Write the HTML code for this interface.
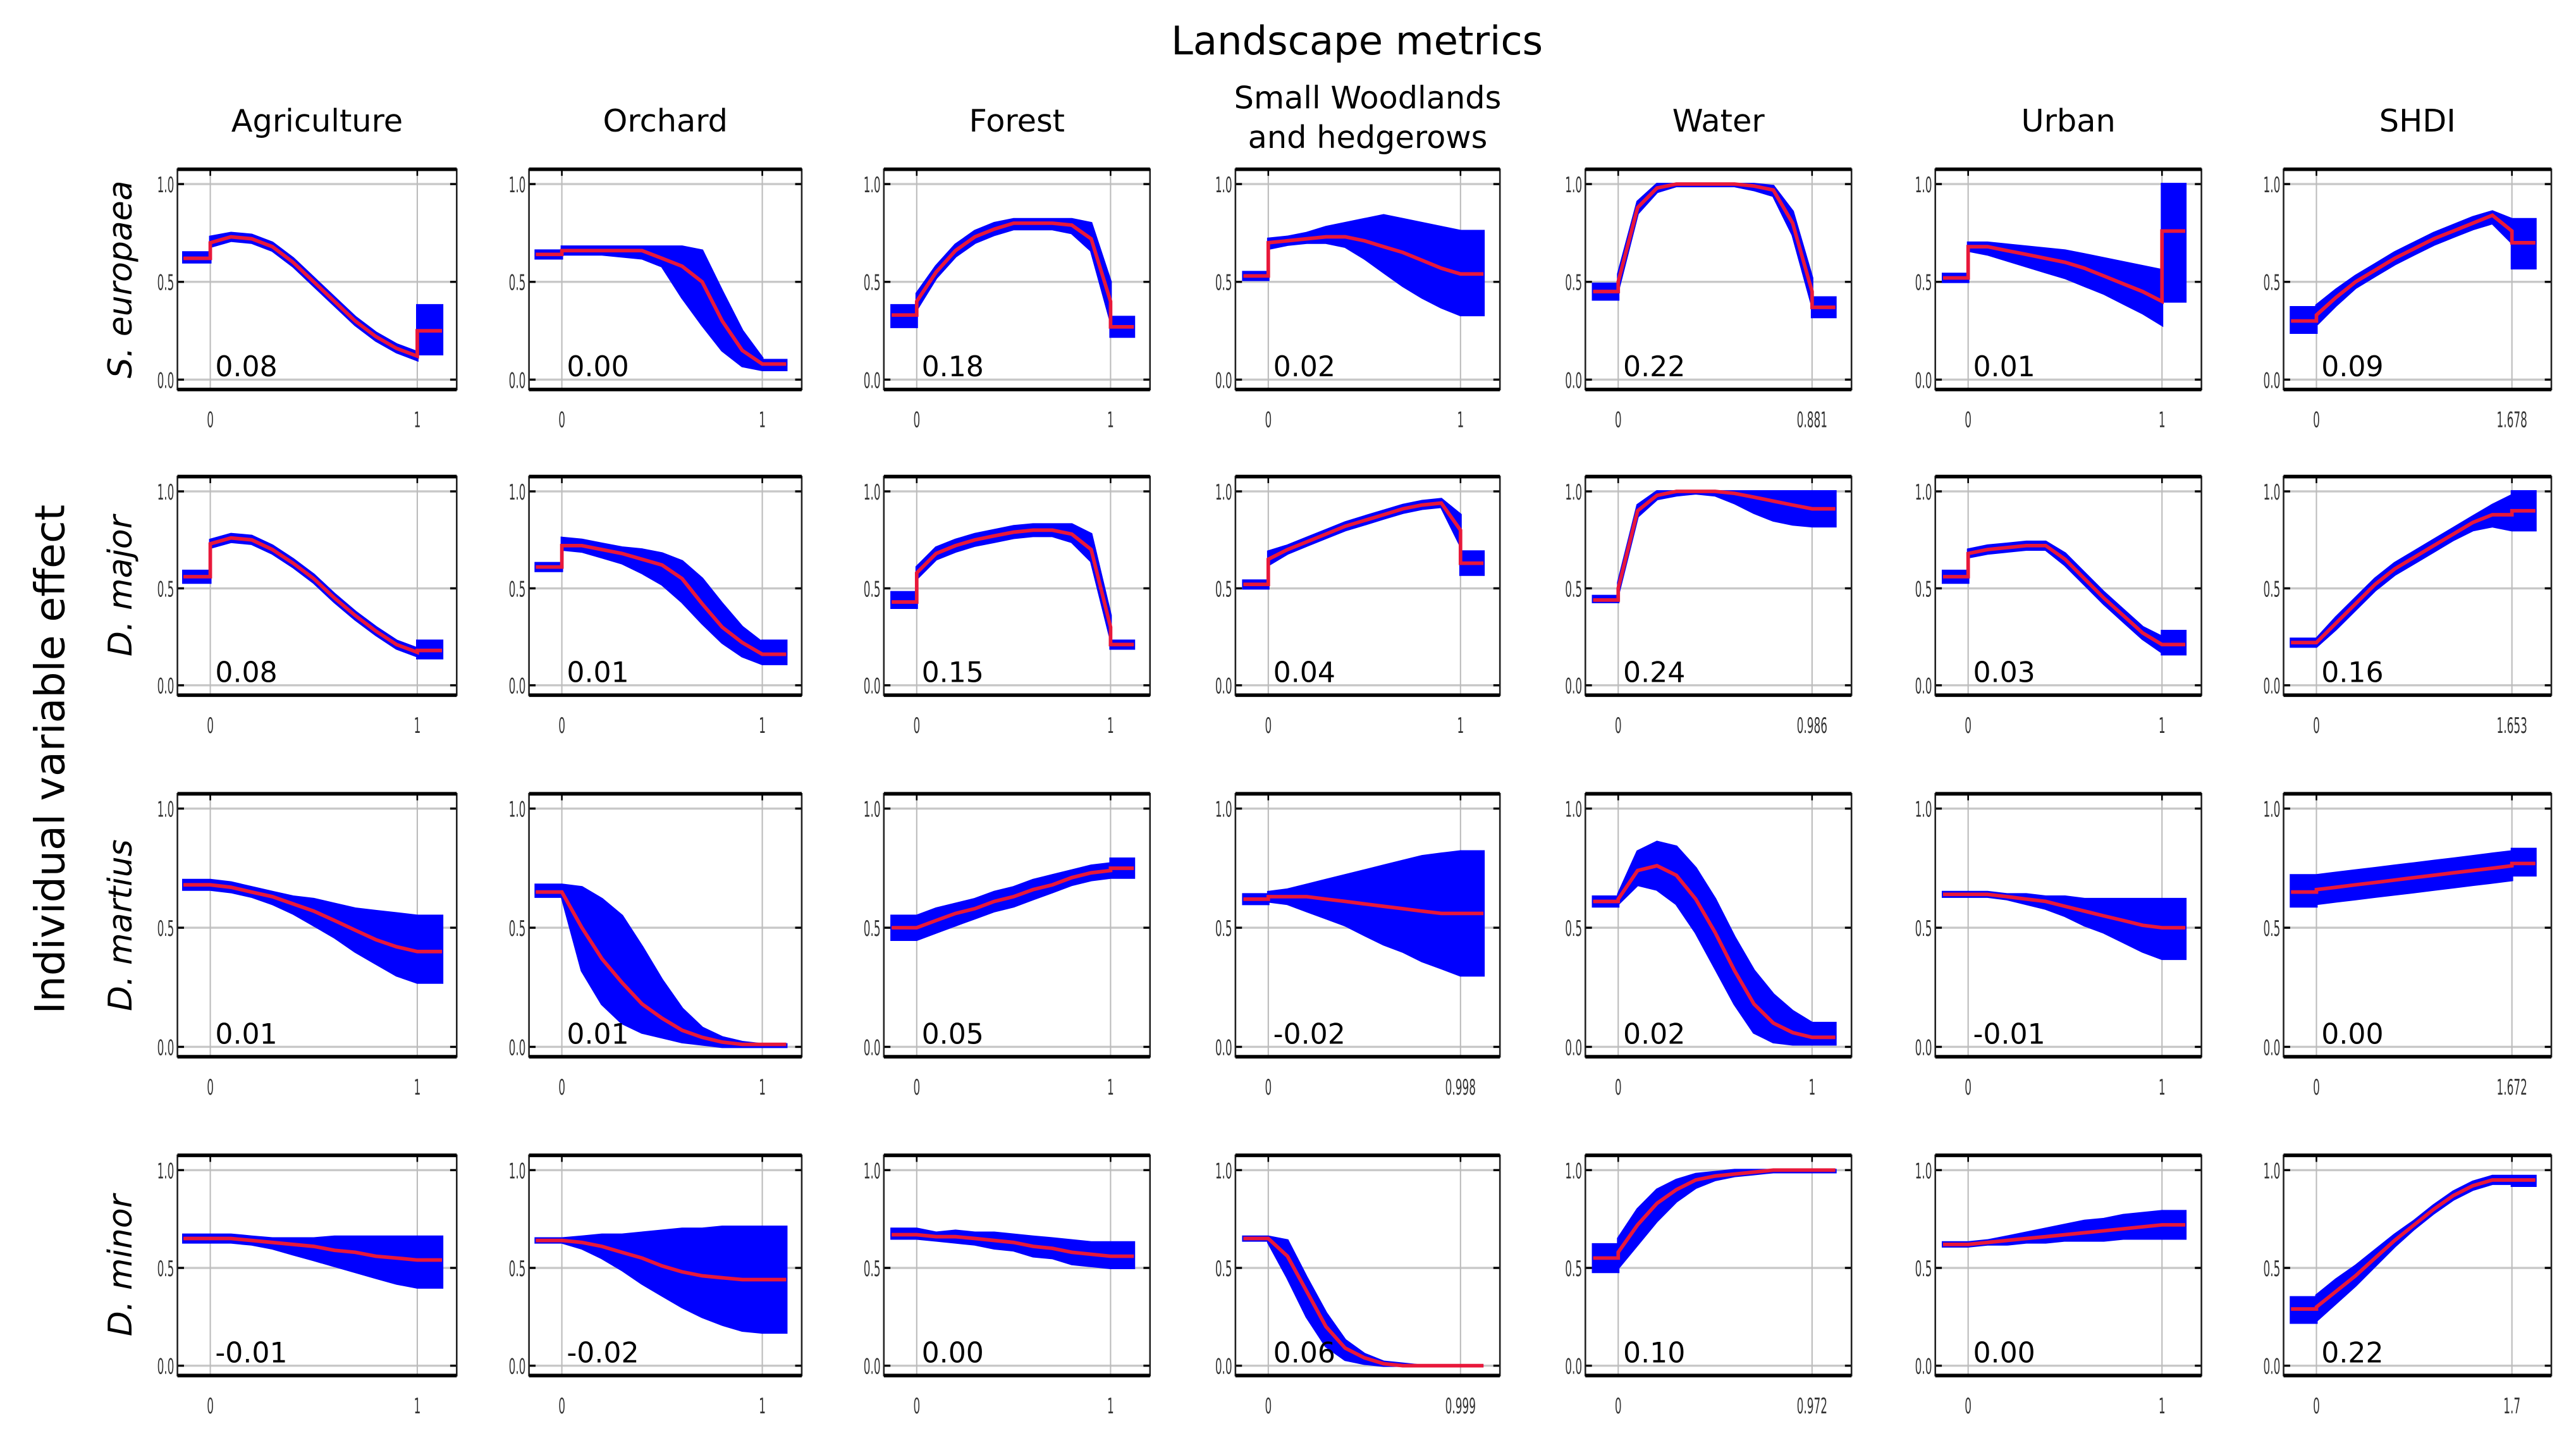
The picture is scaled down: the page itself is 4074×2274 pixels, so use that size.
<!DOCTYPE html>
<html><head><meta charset="utf-8">
<style>
html,body{margin:0;padding:0;background:#fff;}
svg{display:block;}
text{font-family:"DejaVu Sans","Liberation Sans",sans-serif;}
</style></head>
<body>
<svg id="fig" xmlns="http://www.w3.org/2000/svg" width="4074" height="2274" viewBox="0 0 1568 875" preserveAspectRatio="none">
<text x="826" y="33" font-size="24" text-anchor="middle">Landscape metrics</text>
<text x="0" y="0" font-size="25" text-anchor="middle" transform="translate(39,462) rotate(-90)">Individual variable effect</text>
<g id="panels"></g>
</svg>
<script>
// ---- data ----
const columns = ["Agriculture","Orchard","Forest","Small Woodlands|and hedgerows","Water","Urban","SHDI"];
const species = ["S. europaea","D. major","D. martius","D. minor"];
const xPositions = [0,0.1,0.2,0.3,0.4,0.5,0.6,0.7,0.8,0.9,1.0];
const xMaxLabels = [
 ["1","1","1","1","0.881","1","1.678"],
 ["1","1","1","1","0.986","1","1.653"],
 ["1","1","1","0.998","1","1","1.672"],
 ["1","1","1","0.999","0.972","1","1.7"]];
const scoreLabels = [
 ["0.08","0.00","0.18","0.02","0.22","0.01","0.09"],
 ["0.08","0.01","0.15","0.04","0.24","0.03","0.16"],
 ["0.01","0.01","0.05","-0.02","0.02","-0.01","0.00"],
 ["-0.01","-0.02","0.00","0.06","0.10","0.00","0.22"]];
// each series: [pre, x0..x1 (11 values), post]
const meanRow1 = [
 [.62,.70,.73,.72,.68,.60,.50,.40,.30,.22,.16,.12,.25],
 [.64,.66,.66,.66,.66,.66,.62,.58,.50,.30,.15,.08,.08],
 [.33,.40,.55,.66,.73,.77,.80,.80,.80,.79,.72,.40,.27],
 [.53,.70,.71,.72,.73,.73,.71,.68,.65,.61,.57,.54,.54],
 [.45,.50,.88,.98,1.0,1.0,1.0,1.0,.99,.97,.80,.45,.37],
 [.52,.68,.68,.66,.64,.62,.60,.57,.53,.49,.45,.40,.76],
 [.30,.33,.42,.50,.56,.62,.67,.72,.76,.80,.84,.76,.70]];
const lowRow1 = [
 [.60,.68,.71,.70,.66,.58,.48,.38,.28,.20,.14,.10,.13],
 [.62,.64,.64,.64,.63,.62,.58,.42,.28,.15,.07,.05,.05],
 [.27,.36,.52,.63,.70,.74,.77,.77,.77,.75,.66,.30,.22],
 [.51,.67,.69,.70,.70,.68,.62,.55,.48,.42,.37,.33,.33],
 [.41,.46,.85,.96,.99,.99,.99,.99,.97,.94,.74,.38,.32],
 [.50,.66,.64,.61,.58,.55,.52,.48,.44,.39,.34,.28,.40],
 [.24,.28,.38,.47,.53,.59,.64,.69,.73,.77,.80,.70,.57]];
const highRow1 = [
 [.65,.73,.75,.74,.70,.62,.52,.42,.32,.24,.18,.14,.38],
 [.66,.68,.68,.68,.68,.68,.68,.68,.66,.45,.25,.11,.10],
 [.38,.44,.58,.69,.76,.80,.82,.82,.82,.82,.80,.50,.32],
 [.55,.72,.73,.75,.78,.80,.82,.84,.82,.80,.78,.76,.76],
 [.49,.54,.91,1.0,1.0,1.0,1.0,1.0,1.0,.99,.86,.52,.42],
 [.54,.70,.70,.69,.68,.67,.66,.64,.62,.60,.58,.56,1.0],
 [.37,.38,.46,.53,.59,.65,.70,.75,.79,.83,.86,.82,.82]];
const meanRow2 = [
 [.56,.73,.76,.75,.70,.63,.55,.45,.36,.28,.21,.17,.18],
 [.61,.72,.72,.70,.68,.65,.62,.55,.42,.30,.22,.16,.16],
 [.43,.58,.68,.72,.75,.77,.79,.80,.80,.78,.70,.30,.21],
 [.52,.65,.70,.74,.78,.82,.85,.88,.91,.93,.94,.80,.63],
 [.44,.50,.90,.98,1.0,1.0,1.0,.99,.97,.95,.93,.91,.91],
 [.56,.68,.70,.71,.72,.72,.65,.55,.45,.36,.27,.21,.21],
 [.22,.22,.32,.42,.52,.60,.66,.72,.78,.84,.88,.88,.90]];
const lowRow2 = [
 [.53,.71,.74,.73,.68,.61,.53,.43,.34,.26,.19,.15,.14],
 [.59,.70,.69,.66,.63,.58,.52,.43,.32,.22,.15,.11,.11],
 [.40,.55,.65,.69,.72,.74,.76,.77,.77,.74,.64,.24,.19],
 [.50,.62,.68,.72,.76,.80,.83,.86,.89,.91,.92,.72,.57],
 [.43,.47,.87,.96,.98,.99,.98,.94,.89,.85,.83,.82,.82],
 [.53,.66,.68,.69,.70,.70,.62,.52,.42,.33,.24,.17,.16],
 [.20,.20,.29,.39,.49,.57,.63,.69,.75,.80,.82,.80,.80]];
const highRow2 = [
 [.59,.75,.78,.77,.72,.65,.57,.47,.38,.30,.23,.19,.23],
 [.63,.76,.75,.73,.71,.70,.68,.64,.55,.42,.30,.22,.23],
 [.48,.61,.71,.75,.78,.80,.82,.83,.83,.83,.78,.36,.23],
 [.54,.69,.72,.76,.80,.84,.87,.90,.93,.95,.96,.88,.69],
 [.46,.53,.93,1.0,1.0,1.0,1.0,1.0,1.0,1.0,1.0,1.0,1.0],
 [.59,.70,.72,.73,.74,.74,.68,.58,.48,.39,.30,.25,.28],
 [.24,.24,.35,.45,.55,.63,.69,.75,.81,.87,.93,.98,1.0]];
const meanRow3 = [
 [.68,.68,.67,.65,.63,.60,.57,.53,.49,.45,.42,.40,.40],
 [.65,.65,.50,.37,.27,.18,.12,.07,.04,.02,.01,.01,.01],
 [.50,.50,.53,.56,.58,.61,.63,.66,.68,.71,.73,.74,.75],
 [.62,.63,.63,.63,.62,.61,.60,.59,.58,.57,.56,.56,.56],
 [.61,.62,.74,.76,.72,.62,.48,.32,.18,.10,.06,.04,.04],
 [.64,.64,.64,.63,.62,.61,.59,.57,.55,.53,.51,.50,.50],
 [.65,.66,.67,.68,.69,.70,.71,.72,.73,.74,.75,.76,.77]];
const lowRow3 = [
 [.66,.66,.65,.63,.60,.56,.51,.46,.40,.35,.30,.27,.27],
 [.63,.63,.32,.18,.10,.06,.04,.02,.01,0,0,0,0],
 [.45,.45,.48,.51,.54,.57,.59,.62,.65,.68,.70,.71,.71],
 [.60,.61,.60,.57,.54,.51,.47,.43,.40,.36,.33,.30,.30],
 [.59,.60,.68,.66,.60,.48,.33,.18,.06,.02,.01,.01,.01],
 [.63,.63,.63,.62,.60,.58,.55,.51,.48,.44,.40,.37,.37],
 [.59,.60,.61,.62,.63,.64,.65,.66,.67,.68,.69,.70,.72]];
const highRow3 = [
 [.70,.70,.69,.67,.65,.63,.62,.60,.58,.57,.56,.55,.55],
 [.68,.68,.67,.62,.55,.42,.28,.16,.08,.04,.02,.01,.01],
 [.55,.55,.58,.60,.62,.65,.67,.70,.72,.74,.76,.77,.79],
 [.64,.65,.66,.68,.70,.72,.74,.76,.78,.80,.81,.82,.82],
 [.63,.64,.82,.86,.84,.75,.62,.46,.32,.22,.15,.10,.10],
 [.65,.65,.65,.64,.64,.63,.63,.62,.62,.62,.62,.62,.62],
 [.72,.72,.73,.74,.75,.76,.77,.78,.79,.80,.81,.82,.83]];
const meanRow4 = [
 [.65,.65,.65,.64,.63,.62,.61,.59,.58,.56,.55,.54,.54],
 [.64,.64,.63,.61,.58,.55,.51,.48,.46,.45,.44,.44,.44],
 [.67,.67,.66,.66,.65,.64,.63,.61,.60,.58,.57,.56,.56],
 [.65,.65,.56,.38,.20,.09,.04,.01,0,0,0,0,0],
 [.55,.58,.72,.83,.90,.95,.97,.98,.99,1.0,1.0,1.0,1.0],
 [.62,.62,.63,.64,.65,.66,.67,.68,.69,.70,.71,.72,.72],
 [.29,.30,.38,.46,.55,.64,.72,.80,.87,.92,.95,.95,.95]];
const lowRow4 = [
 [.63,.63,.63,.62,.60,.57,.54,.51,.48,.45,.42,.40,.40],
 [.63,.63,.60,.55,.49,.42,.36,.30,.25,.21,.18,.17,.17],
 [.65,.65,.64,.63,.62,.60,.59,.56,.55,.52,.51,.50,.50],
 [.64,.63,.45,.25,.10,.03,.01,0,0,0,0,0,0],
 [.48,.50,.62,.74,.84,.91,.95,.97,.98,.99,.99,.99,.99],
 [.61,.61,.62,.62,.63,.63,.64,.64,.64,.65,.65,.65,.65],
 [.22,.23,.32,.41,.51,.61,.70,.78,.85,.90,.93,.93,.92]];
const highRow4 = [
 [.67,.67,.67,.66,.65,.65,.65,.66,.66,.66,.66,.66,.66],
 [.65,.65,.66,.67,.67,.68,.69,.70,.70,.71,.71,.71,.71],
 [.70,.70,.68,.69,.68,.68,.67,.66,.65,.64,.63,.63,.63],
 [.66,.66,.64,.45,.27,.13,.06,.02,.01,0,0,0,0],
 [.62,.65,.80,.90,.95,.98,.99,1.0,1.0,1.0,1.0,1.0,1.0],
 [.63,.63,.64,.66,.68,.70,.72,.74,.75,.77,.78,.79,.79],
 [.35,.36,.44,.51,.59,.67,.74,.82,.89,.94,.97,.97,.97]];
const meanRows=[meanRow1,meanRow2,meanRow3,meanRow4];
const lowRows=[lowRow1,lowRow2,lowRow3,lowRow4];
const highRows=[highRow1,highRow2,highRow3,highRow4];

// ---- layout ----
const colL=[108,322,538,752,965,1178,1390], colR=[278,488,700,913,1127,1340,1553];
const rowT=[103,290,483,703], rowB=[237,423,643,837];
const NS="http://www.w3.org/2000/svg";
const root=document.getElementById('panels');
function mk(tag,attrs,parent,txt){const e=document.createElementNS(NS,tag);for(const k in attrs)e.setAttribute(k,attrs[k]);if(txt!==undefined)e.textContent=txt;parent.appendChild(e);return e;}

columns.forEach((c,ci)=>{
  const cx=(colL[ci]+colR[ci])/2;
  const parts=c.split('|');
  const t=mk('text',{x:cx,y:parts.length>1?66:80,'font-size':19,'text-anchor':'middle'},root);
  
  
  parts.forEach((p,i)=>{mk('tspan',{x:cx,dy:i?24:0},t,p);});
});
species.forEach((s,ri)=>{
  const cy=(rowT[ri]+rowB[ri])/2;
  const t=mk('text',{x:0,y:0,'font-size':20,'font-style':'italic','text-anchor':'middle',transform:`translate(80,${cy}) rotate(-90)`},root,s);
  
  
});

for(let ri=0;ri<4;ri++)for(let ci=0;ci<7;ci++){
  const L=colL[ci],R=colR[ci],T=rowT[ri],B=rowB[ri];
  const x0=L+20,x1=R-24,y1=T+9,y0=B-6;
  const sx=v=>x0+(x1-x0)*v, sy=v=>y0-(y0-y1)*v;
  const g=mk('g',{},root);
  
  
  [0,0.5,1].forEach(v=>{
    mk('line',{x1:L,x2:R,y1:sy(v),y2:sy(v),stroke:'#c8c8c8','stroke-width':1.3},g);
    mk('line',{x1:L,x2:L+4,y1:sy(v),y2:sy(v),stroke:'#000','stroke-width':1.3},g);
    mk('line',{x1:R-4,x2:R,y1:sy(v),y2:sy(v),stroke:'#000','stroke-width':1.3},g);
    const lb=mk('text',{x:0,y:0,'font-size':13,'text-anchor':'end',fill:'#333',transform:`translate(${L-2},${sy(v)+5}) scale(0.5,1)`},g,v.toFixed(1));
    
    
  });
  [0,1].forEach(v=>{
    mk('line',{x1:sx(v),x2:sx(v),y1:T,y2:B,stroke:'#bbb','stroke-width':0.8},g);
    mk('line',{x1:sx(v),x2:sx(v),y1:T,y2:T+4,stroke:'#000','stroke-width':1},g);
    const lb=mk('text',{x:0,y:0,'font-size':13,'text-anchor':'middle',fill:'#333',transform:`translate(${sx(v)},${B+23}) scale(0.5,1)`},g,v?xMaxLabels[ri][ci]:"0");
    
    
  });
  const m=meanRows[ri][ci],lo=lowRows[ri][ci],hi=highRows[ri][ci];
  function pts(a){const p=[[-0.13,a[0]],[0,a[0]]];for(let i=0;i<11;i++)p.push([xPositions[i],a[i+1]]);p.push([1.0,a[12]],[1.12,a[12]]);return p;}
  const ph=pts(hi),pl=pts(lo).reverse(),pm=pts(m);
  const band=mk('polygon',{points:ph.concat(pl).map(p=>sx(p[0]).toFixed(1)+','+sy(p[1]).toFixed(1)).join(' '),fill:'#0000ff',stroke:'#0000ff','stroke-width':1.5},g);
  
  
  const line=mk('polyline',{points:pm.map(p=>sx(p[0]).toFixed(1)+','+sy(p[1]).toFixed(1)).join(' '),fill:'none',stroke:'#e8183a','stroke-width':2.2},g);
  
  
  mk('rect',{x:L,y:T,width:R-L,height:B-T,fill:'none',stroke:'#222','stroke-width':1},g);
  mk('line',{x1:L,x2:R,y1:T,y2:T,stroke:'#000','stroke-width':2.2},g);
  mk('line',{x1:L,x2:R,y1:B,y2:B,stroke:'#000','stroke-width':2.2},g);
  const sc=mk('text',{x:L+23,y:B-8,'font-size':17},g,scoreLabels[ri][ci]);
  
  
}
</script>
</body></html>
